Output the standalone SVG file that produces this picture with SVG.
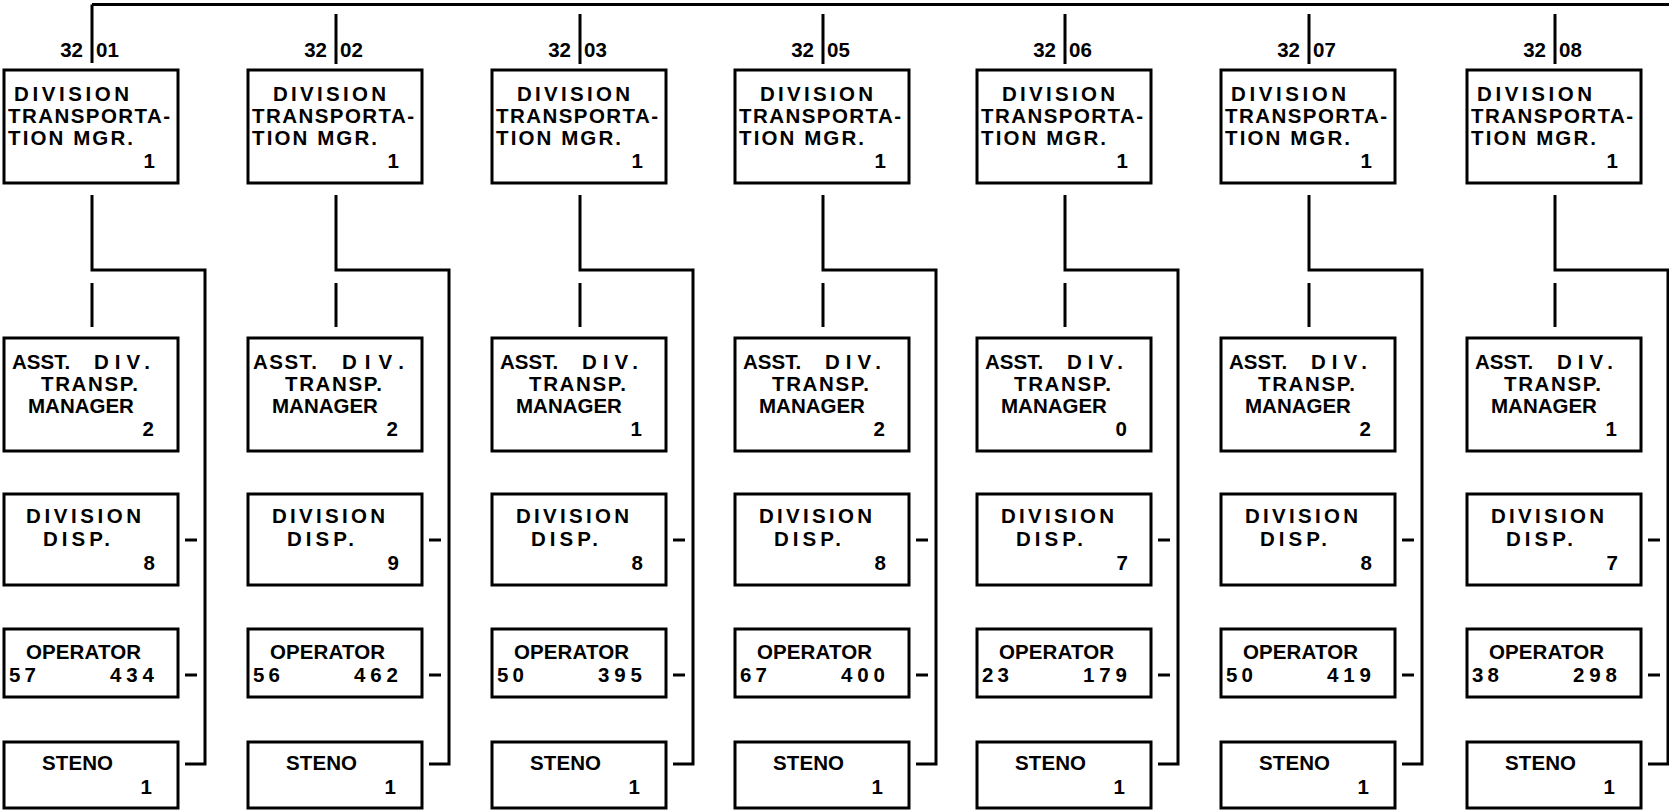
<svg xmlns="http://www.w3.org/2000/svg" width="1669" height="811" viewBox="0 0 1669 811">
<style>
.b{fill:#fff;stroke:#000;stroke-width:3}
.c{fill:none;stroke:#000;stroke-width:3}
text{font-family:"Liberation Sans",Arial,sans-serif;font-weight:bold;font-size:20.5px;fill:#000}
.e{text-anchor:end}
</style>
<rect width="1669" height="811" fill="#fff"/>
<g id="connectors" class="c">
<path d="M92 4.5H1669M92 4.5V63"/>
<path d="M336 14V64M580 14V64M823 14V64M1065 14V64M1309 14V64M1555 14V64"/>
<path d="M92 195V270H205V764H185M92 283V327M185 540H197M185 675H197"/>
<path d="M336 195V270H449V764H429M336 283V327M429 540H441M429 675H441"/>
<path d="M580 195V270H693V764H673M580 283V327M673 540H685M673 675H685"/>
<path d="M823 195V270H936V764H916M823 283V327M916 540H928M916 675H928"/>
<path d="M1065 195V270H1178V764H1158M1065 283V327M1158 540H1170M1158 675H1170"/>
<path d="M1309 195V270H1422V764H1402M1309 283V327M1402 540H1414M1402 675H1414"/>
<path d="M1555 195V270H1668V764H1648M1555 283V327M1648 540H1660M1648 675H1660"/>
</g>
<g id="labels">
<text class="e" x="83" y="57">32</text><text x="96" y="57">01</text>
<text class="e" x="327" y="57">32</text><text x="340" y="57">02</text>
<text class="e" x="571" y="57">32</text><text x="584" y="57">03</text>
<text class="e" x="814" y="57">32</text><text x="827" y="57">05</text>
<text class="e" x="1056" y="57">32</text><text x="1069" y="57">06</text>
<text class="e" x="1300" y="57">32</text><text x="1313" y="57">07</text>
<text class="e" x="1546" y="57">32</text><text x="1559" y="57">08</text>
</g>
<g id="mgr-3201"><rect class="b" x="4" y="70" width="174" height="113"/><text x="14" y="101" textLength="115">DIVISION</text><text x="8" y="123" textLength="162">TRANSPORTA-</text><text x="8" y="145" textLength="125">TION MGR.</text><text class="e" x="155" y="168">1</text></g>
<g id="mgr-3202"><rect class="b" x="248" y="70" width="174" height="113"/><text x="273" y="101" textLength="113">DIVISION</text><text x="252" y="123" textLength="162">TRANSPORTA-</text><text x="252" y="145" textLength="125">TION MGR.</text><text class="e" x="399" y="168">1</text></g>
<g id="mgr-3203"><rect class="b" x="492" y="70" width="174" height="113"/><text x="517" y="101" textLength="113">DIVISION</text><text x="496" y="123" textLength="162">TRANSPORTA-</text><text x="496" y="145" textLength="125">TION MGR.</text><text class="e" x="643" y="168">1</text></g>
<g id="mgr-3205"><rect class="b" x="735" y="70" width="174" height="113"/><text x="760" y="101" textLength="113">DIVISION</text><text x="739" y="123" textLength="162">TRANSPORTA-</text><text x="739" y="145" textLength="125">TION MGR.</text><text class="e" x="886" y="168">1</text></g>
<g id="mgr-3206"><rect class="b" x="977" y="70" width="174" height="113"/><text x="1002" y="101" textLength="113">DIVISION</text><text x="981" y="123" textLength="162">TRANSPORTA-</text><text x="981" y="145" textLength="125">TION MGR.</text><text class="e" x="1128" y="168">1</text></g>
<g id="mgr-3207"><rect class="b" x="1221" y="70" width="174" height="113"/><text x="1231" y="101" textLength="115">DIVISION</text><text x="1225" y="123" textLength="162">TRANSPORTA-</text><text x="1225" y="145" textLength="125">TION MGR.</text><text class="e" x="1372" y="168">1</text></g>
<g id="mgr-3208"><rect class="b" x="1467" y="70" width="174" height="113"/><text x="1477" y="101" textLength="115">DIVISION</text><text x="1471" y="123" textLength="162">TRANSPORTA-</text><text x="1471" y="145" textLength="125">TION MGR.</text><text class="e" x="1618" y="168">1</text></g>

<g id="asst-3201"><rect class="b" x="4" y="338" width="174" height="113"/><text x="12" y="369">ASST.</text><text x="94" y="369" textLength="56">DIV.</text><text x="41" y="391" textLength="97">TRANSP.</text><text x="28" y="413">MANAGER</text><text class="e" x="154" y="436">2</text></g>
<g id="asst-3202"><rect class="b" x="248" y="338" width="174" height="113"/><text x="253" y="369" textLength="64">ASST.</text><text x="342" y="369" textLength="62">DIV.</text><text x="285" y="391" textLength="97">TRANSP.</text><text x="272" y="413">MANAGER</text><text class="e" x="398" y="436">2</text></g>
<g id="asst-3203"><rect class="b" x="492" y="338" width="174" height="113"/><text x="500" y="369">ASST.</text><text x="582" y="369" textLength="56">DIV.</text><text x="529" y="391" textLength="97">TRANSP.</text><text x="516" y="413">MANAGER</text><text class="e" x="642" y="436">1</text></g>
<g id="asst-3205"><rect class="b" x="735" y="338" width="174" height="113"/><text x="743" y="369">ASST.</text><text x="825" y="369" textLength="56">DIV.</text><text x="772" y="391" textLength="97">TRANSP.</text><text x="759" y="413">MANAGER</text><text class="e" x="885" y="436">2</text></g>
<g id="asst-3206"><rect class="b" x="977" y="338" width="174" height="113"/><text x="985" y="369">ASST.</text><text x="1067" y="369" textLength="56">DIV.</text><text x="1014" y="391" textLength="97">TRANSP.</text><text x="1001" y="413">MANAGER</text><text class="e" x="1127" y="436">0</text></g>
<g id="asst-3207"><rect class="b" x="1221" y="338" width="174" height="113"/><text x="1229" y="369">ASST.</text><text x="1311" y="369" textLength="56">DIV.</text><text x="1258" y="391" textLength="97">TRANSP.</text><text x="1245" y="413">MANAGER</text><text class="e" x="1371" y="436">2</text></g>
<g id="asst-3208"><rect class="b" x="1467" y="338" width="174" height="113"/><text x="1475" y="369">ASST.</text><text x="1557" y="369" textLength="56">DIV.</text><text x="1504" y="391" textLength="97">TRANSP.</text><text x="1491" y="413">MANAGER</text><text class="e" x="1617" y="436">1</text></g>

<g id="disp-3201"><rect class="b" x="4" y="494" width="174" height="91"/><text x="26" y="523" textLength="115">DIVISION</text><text x="43" y="546" textLength="67">DISP.</text><text class="e" x="155" y="570">8</text></g>
<g id="disp-3202"><rect class="b" x="248" y="494" width="174" height="91"/><text x="272" y="523" textLength="113">DIVISION</text><text x="287" y="546" textLength="67">DISP.</text><text class="e" x="399" y="570">9</text></g>
<g id="disp-3203"><rect class="b" x="492" y="494" width="174" height="91"/><text x="516" y="523" textLength="113">DIVISION</text><text x="531" y="546" textLength="67">DISP.</text><text class="e" x="643" y="570">8</text></g>
<g id="disp-3205"><rect class="b" x="735" y="494" width="174" height="91"/><text x="759" y="523" textLength="113">DIVISION</text><text x="774" y="546" textLength="67">DISP.</text><text class="e" x="886" y="570">8</text></g>
<g id="disp-3206"><rect class="b" x="977" y="494" width="174" height="91"/><text x="1001" y="523" textLength="113">DIVISION</text><text x="1016" y="546" textLength="67">DISP.</text><text class="e" x="1128" y="570">7</text></g>
<g id="disp-3207"><rect class="b" x="1221" y="494" width="174" height="91"/><text x="1245" y="523" textLength="113">DIVISION</text><text x="1260" y="546" textLength="67">DISP.</text><text class="e" x="1372" y="570">8</text></g>
<g id="disp-3208"><rect class="b" x="1467" y="494" width="174" height="91"/><text x="1491" y="523" textLength="113">DIVISION</text><text x="1506" y="546" textLength="67">DISP.</text><text class="e" x="1618" y="570">7</text></g>

<g id="op-3201"><rect class="b" x="4" y="629" width="174" height="68"/><text x="26" y="659" textLength="115">OPERATOR</text><text x="9" y="682" textLength="27">57</text><text x="110" y="682" textLength="44">434</text></g>
<g id="op-3202"><rect class="b" x="248" y="629" width="174" height="68"/><text x="270" y="659" textLength="115">OPERATOR</text><text x="253" y="682" textLength="27">56</text><text x="354" y="682" textLength="44">462</text></g>
<g id="op-3203"><rect class="b" x="492" y="629" width="174" height="68"/><text x="514" y="659" textLength="115">OPERATOR</text><text x="497" y="682" textLength="27">50</text><text x="598" y="682" textLength="44">395</text></g>
<g id="op-3205"><rect class="b" x="735" y="629" width="174" height="68"/><text x="757" y="659" textLength="115">OPERATOR</text><text x="740" y="682" textLength="27">67</text><text x="841" y="682" textLength="44">400</text></g>
<g id="op-3206"><rect class="b" x="977" y="629" width="174" height="68"/><text x="999" y="659" textLength="115">OPERATOR</text><text x="982" y="682" textLength="27">23</text><text x="1083" y="682" textLength="44">179</text></g>
<g id="op-3207"><rect class="b" x="1221" y="629" width="174" height="68"/><text x="1243" y="659" textLength="115">OPERATOR</text><text x="1226" y="682" textLength="27">50</text><text x="1327" y="682" textLength="44">419</text></g>
<g id="op-3208"><rect class="b" x="1467" y="629" width="174" height="68"/><text x="1489" y="659" textLength="115">OPERATOR</text><text x="1472" y="682" textLength="27">38</text><text x="1573" y="682" textLength="44">298</text></g>

<g id="steno-3201"><rect class="b" x="4" y="742" width="174" height="66"/><text x="42" y="770" textLength="71">STENO</text><text class="e" x="152" y="794">1</text></g>
<g id="steno-3202"><rect class="b" x="248" y="742" width="174" height="66"/><text x="286" y="770" textLength="71">STENO</text><text class="e" x="396" y="794">1</text></g>
<g id="steno-3203"><rect class="b" x="492" y="742" width="174" height="66"/><text x="530" y="770" textLength="71">STENO</text><text class="e" x="640" y="794">1</text></g>
<g id="steno-3205"><rect class="b" x="735" y="742" width="174" height="66"/><text x="773" y="770" textLength="71">STENO</text><text class="e" x="883" y="794">1</text></g>
<g id="steno-3206"><rect class="b" x="977" y="742" width="174" height="66"/><text x="1015" y="770" textLength="71">STENO</text><text class="e" x="1125" y="794">1</text></g>
<g id="steno-3207"><rect class="b" x="1221" y="742" width="174" height="66"/><text x="1259" y="770" textLength="71">STENO</text><text class="e" x="1369" y="794">1</text></g>
<g id="steno-3208"><rect class="b" x="1467" y="742" width="174" height="66"/><text x="1505" y="770" textLength="71">STENO</text><text class="e" x="1615" y="794">1</text></g>
</svg>
